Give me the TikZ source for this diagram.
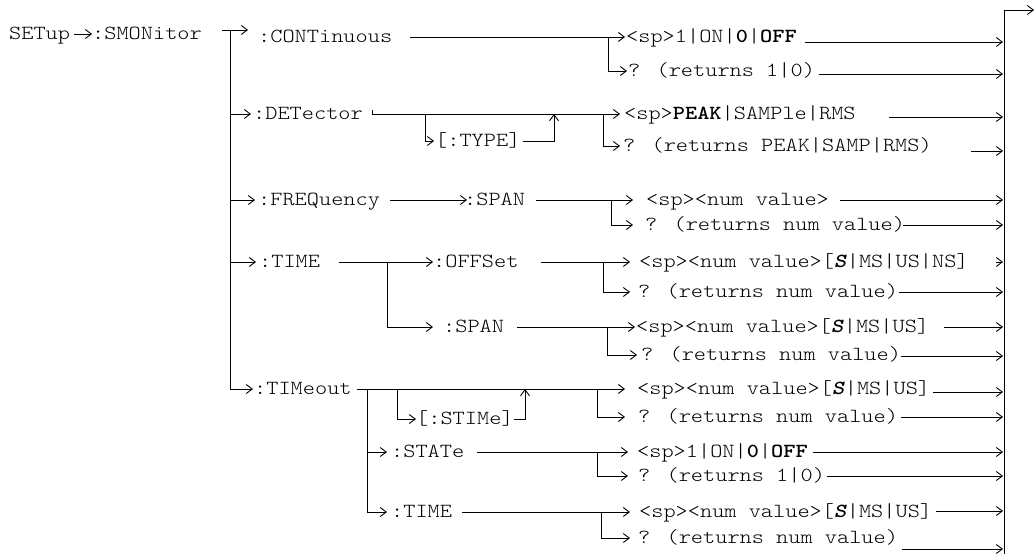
\documentclass[tikz,border=0pt]{standalone}
\usepackage{fontspec}
\newfontfamily\cour{lmmonolt10-regular.otf}[BoldFont=lmmonolt10-bold.otf, ItalicFont=lmmonolt10-oblique.otf, BoldItalicFont=lmmonolt10-boldoblique.otf, FakeStretch=1.16]
\usetikzlibrary{arrows.meta,calc}
\begin{document}
\begin{tikzpicture}[x=1pt,y=-1pt,
  lbl/.style={anchor=west,inner sep=0pt,text height=11pt,text depth=1pt,font=\cour\fontsize{20}{24}\selectfont},
  ln/.style={line width=1pt},
  arr/.style={line width=1pt,-{Straight Barb[length=6pt,width=9pt,line width=0.9pt]}}]
\useasboundingbox (0,0) rectangle (1034,554);
\newcommand{\bS}{\textbf{\textit{S}}}
% left column
\node[lbl] (setup) at (9,34) {SETup};
\node[lbl] (smon) at (92,34) {:SMONitor};
\node[lbl] (cont) at (258,37) {:CONTinuous};
\node[lbl] (det) at (253,114) {:DETector};
\node[lbl] (freq) at (258,200) {:FREQuency};
\node[lbl] (time) at (259,262) {:TIME};
\node[lbl] (tmo) at (254,389) {:TIMeout};
% middle column
\node[lbl] (type) at (435,141) {[:TYPE]};
\node[lbl] (fspan) at (464,200) {:SPAN};
\node[lbl] (off) at (433,262) {:OFFSet};
\node[lbl] (tspan) at (443,327) {:SPAN};
\node[lbl] (stime) at (416,419) {[:STIMe]};
\node[lbl] (state) at (391,452) {:STATe};
\node[lbl] (ttime) at (391,512) {:TIME};
% right column
\node[lbl] (c1a) at (626,37) {<sp>1|ON|\textbf{0}|\textbf{OFF}};
\node[lbl] (c1b) at (628,71) {? (returns 1|0)};
\node[lbl] (d1a) at (624,114) {<sp>\textbf{PEAK}|SAMPle|RMS};
\node[lbl] (d1b) at (623,146) {? (returns PEAK|SAMP|RMS)};
\node[lbl] (f1a) at (646,200) {<sp><num value>};
\node[lbl] (f1b) at (645,225) {? (returns num value)};
\node[lbl] (o1a) at (639,262) {<sp><num value>[\bS|MS|US|NS]};
\node[lbl] (o1b) at (638,292) {? (returns num value)};
\node[lbl] (ts1a) at (636,327) {<sp><num value>[\bS|MS|US]};
\node[lbl] (ts1b) at (641,355) {? (returns num value)};
\node[lbl] (m1a) at (637,389) {<sp><num value>[\bS|MS|US]};
\node[lbl] (m1b) at (638,417) {? (returns num value)};
\node[lbl] (s1a) at (637,452) {<sp>1|ON|\textbf{0}|\textbf{OFF}};
\node[lbl] (s1b) at (638,476) {? (returns 1|0)};
\node[lbl] (tt1a) at (639,512) {<sp><num value>[\bS|MS|US]};
\node[lbl] (tt1b) at (638,538) {? (returns num value)};
% main trunk
\coordinate (tl) at (222,30);
\coordinate (tt) at (230,30);
\coordinate (tb) at (230,389);
\draw[arr] ($(setup.east)+(4pt,0)$) -- (smon.west);
\draw[arr] (tl) -- ($(cont.west|-tl)+(-10pt,0)$);
\draw[ln] (tt) -- (tb);
\draw[arr] (tb |- det.west) -- ($(det.west)+(-2pt,0)$);
\draw[arr] (tb |- freq.west) -- ($(freq.west)+(-3pt,0)$);
\draw[arr] (tb |- time.west) -- ($(time.west)+(-3pt,0)$);
\draw[arr] (tb) -- ($(tmo.west)+(-1pt,0)$);
% CONTinuous
\draw[arr] ($(cont.east)+(18pt,0)$) -- ($(c1a.west)+(-1pt,0)$);
\coordinate (vc) at (608,37);
\draw[arr] (vc) |- ($(c1b.west)+(-1pt,0)$);
% DETector
\coordinate (dk) at (372,110);
\draw[arr] (dk) |- ($(d1a.west)+(-4pt,0)$);
\coordinate (vd) at (603,114);
\draw[arr] (vd) |- ($(d1b.west)+(-3pt,0)$);
\coordinate (vt) at (425,114);
\draw[arr] (vt) |- ($(type.west)+(-1pt,0)$);
\coordinate (ut) at (554,114);
\draw[arr] ($(type.east)+(2pt,0)$) -| (ut);
% FREQuency
\draw[arr] ($(freq.east)+(10pt,0)$) -- ($(fspan.west)+(3pt,0)$);
\draw[arr] ($(fspan.east)+(11pt,0)$) -- ($(f1a.west)+(-13pt,0)$);
\coordinate (vf) at (611,200);
\draw[arr] (vf) |- ($(f1b.west)+(-12pt,0)$);
% TIME
\draw[arr] ($(time.east)+(19pt,0)$) -- (off.west);
\coordinate (vtm) at (387,262);
\draw[arr] (vtm) |- ($(tspan.west)+(-10pt,0)$);
\draw[arr] ($(off.east)+(22pt,0)$) -- ($(o1a.west)+(-9pt,0)$);
\coordinate (vo) at (603,262);
\draw[arr] (vo) |- ($(o1b.west)+(-8pt,0)$);
\draw[arr] ($(tspan.east)+(13pt,0)$) -- ($(ts1a.west)+(-1pt,0)$);
\coordinate (vs) at (607,327);
\draw[arr] (vs) |- ($(ts1b.west)+(-4pt,0)$);
% TIMeout
\draw[arr] ($(tmo.east)+(5pt,0)$) -- ($(m1a.west)+(-12pt,0)$);
\coordinate (vm) at (597,389);
\draw[arr] (vm) |- ($(m1b.west)+(-13pt,0)$);
\coordinate (vx) at (367,389);
\draw[arr] (vx) |- ($(ttime.west)+(-4pt,0)$);
\draw[arr] (vx |- state.west) -- ($(state.west)+(-4pt,0)$);
\coordinate (vy) at (397,389);
\draw[arr] (vy) |- (stime.west);
\coordinate (us) at (525,389);
\draw[arr] (stime.east) -| (us);
\draw[arr] ($(state.east)+(13pt,0)$) -- ($(s1a.west)+(-9pt,0)$);
\coordinate (vst) at (597,452);
\draw[arr] (vst) |- ($(s1b.west)+(-10pt,0)$);
\draw[arr] ($(ttime.east)+(10pt,0)$) -- ($(tt1a.west)+(-9pt,0)$);
\coordinate (vtt) at (601,512);
\draw[arr] (vtt) |- ($(tt1b.west)+(-8pt,0)$);
% right bar
\coordinate (rt) at (1004,10);
\coordinate (rbot) at (1004,554);
\coordinate (rout) at (1034,10);
\draw[ln] (rt) -- (rbot);
\draw[arr] (rt) -- (rout);
\foreach \n/\y in {1/42,2/74,3/117,4/151,5/200,6/225,7/262,8/292,9/327,10/356,11/392,12/417,13/452,14/476,15/511,16/549}
  \coordinate (r\n) at (1003,\y);
\draw[arr] ($(c1a.east|-r1)+(8pt,0)$) -- (r1);
\draw[arr] ($(c1b.east|-r2)+(4pt,0)$) -- (r2);
\draw[arr] ($(d1a.east|-r3)+(33pt,0)$) -- (r3);
\draw[arr] ($(d1b.east|-r4)+(39pt,0)$) -- (r4);
\draw[arr] ($(f1a.east|-r5)+(11pt,0)$) -- (r5);
\draw[arr] ($(f1b.east|-r6)+(-2pt,0)$) -- (r6);
\draw[arr] ($(o1a.east|-r7)+(27pt,0)$) -- (r7);
\draw[arr] ($(o1b.east|-r8)+(1pt,0)$) -- (r8);
\draw[arr] ($(ts1a.east|-r9)+(15pt,0)$) -- (r9);
\draw[arr] ($(ts1b.east|-r10)+(0pt,0)$) -- (r10);
\draw[arr] ($(m1a.east|-r11)+(3pt,0)$) -- (r11);
\draw[arr] ($(m1b.east|-r12)+(3pt,0)$) -- (r12);
\draw[arr] ($(s1a.east|-r13)+(5pt,0)$) -- (r13);
\draw[arr] ($(s1b.east|-r14)+(2pt,0)$) -- (r14);
\draw[arr] ($(tt1a.east|-r15)+(4pt,0)$) -- (r15);
\draw[arr] ($(tt1b.east|-r16)+(4pt,0)$) -- (r16);
\end{tikzpicture}
\end{document}
